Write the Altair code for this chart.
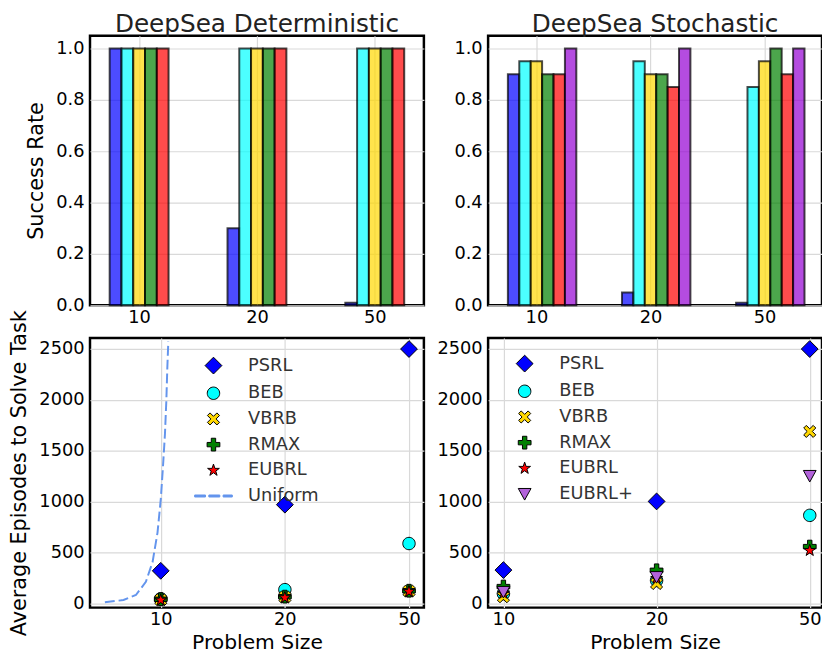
import altair as alt
import pandas as pd

# ---------------- data ----------------
sizes = ["10", "20", "50"]
size_pos = [0, 1, 2]

det_methods = ["PSRL", "BEB", "VBRB", "RMAX", "EUBRL"]
sto_methods = ["PSRL", "BEB", "VBRB", "RMAX", "EUBRL", "EUBRL+"]

# success rate, DeepSea deterministic
det_rate_psrl = [1.0, 0.30, 0.01]
det_rate_beb = [1.0, 1.0, 1.0]
det_rate_vbrb = [1.0, 1.0, 1.0]
det_rate_rmax = [1.0, 1.0, 1.0]
det_rate_eubrl = [1.0, 1.0, 1.0]

# success rate, DeepSea stochastic
sto_rate_psrl = [0.90, 0.05, 0.01]
sto_rate_beb = [0.95, 0.95, 0.85]
sto_rate_vbrb = [0.95, 0.90, 0.95]
sto_rate_rmax = [0.90, 0.90, 1.0]
sto_rate_eubrl = [0.90, 0.85, 0.90]
sto_rate_eubrlp = [1.0, 1.0, 1.0]

# average episodes to solve, deterministic
det_eps_psrl = [320, 970, 2500]
det_eps_beb = [45, 135, 588]
det_eps_vbrb = [35, 62, 120]
det_eps_rmax = [40, 66, 124]
det_eps_eubrl = [32, 56, 116]

# average episodes to solve, stochastic
sto_eps_psrl = [327, 1002, 2500]
sto_eps_beb = [95, 225, 865]
sto_eps_vbrb = [65, 195, 1690]
sto_eps_rmax = [165, 325, 558]
sto_eps_eubrl = [100, 245, 520]
sto_eps_eubrlp = [112, 258, 1252]

# uniform-exploration reference curve (deterministic panel)
uniform_pos = [-0.45, -0.30, -0.20, -0.12, -0.066, -0.026, 0.0, 0.018, 0.034, 0.045, 0.053, 0.061]
uniform_eps = [10, 33, 82, 211, 405, 696, 1019, 1344, 1667, 1990, 2315, 2573]

# ---------------- styles ----------------
FONT = "DejaVu Sans"
bar_colors = ["#0000ff", "#00ffff", "#ffd700", "#008000", "#ff0000", "#9400d3"]
marker_fill = {"PSRL": "#0000ff", "BEB": "#00ffff", "VBRB": "#ffd700", "RMAX": "#008000",
               "EUBRL": "#ff0000", "EUBRL+": "#b262da", "Uniform": "#6495ed"}
marker_shape = {
    "PSRL": "M-1,0L0,-1L1,0L0,1Z",
    "BEB": "M0.74,0A0.74,0.74,0,1,1,-0.74,0A0.74,0.74,0,1,1,0.74,0Z",
    "VBRB": "M0.41,-0.72L0.72,-0.41L0.31,0L0.72,0.41L0.41,0.72L0,0.31L-0.41,0.72L-0.72,0.41L-0.31,0L-0.72,-0.41L-0.41,-0.72L0,-0.31Z",
    "RMAX": "M-0.26,-0.76H0.26V-0.26H0.76V0.26H0.26V0.76H-0.26V0.26H-0.76V-0.26H-0.26Z",
    "EUBRL": "M0,-0.74L0.17,-0.23L0.7,-0.23L0.27,0.09L0.43,0.6L0,0.29L-0.43,0.6L-0.27,0.09L-0.7,-0.23L-0.17,-0.23Z",
    "EUBRL+": "M-0.76,-0.66L0.76,-0.66L0,0.72Z",
    "Uniform": "M-2.24,-0.12H-0.95V0.12H-2.24Z M-0.55,-0.12H0.75V0.12H-0.55Z M1.15,-0.12H2.24V0.12H1.15Z",
}
marker_stroke = {k: "black" for k in marker_fill}
marker_stroke["Uniform"] = "#6495ed"

BAR_W = 0.1
LEFT_W = 338
RIGHT_W = 338
PANEL_H = 273
label_expr = "[" + ",".join("'%s'" % s for s in sizes) + "][datum.value]"


def x_axis(title=None):
    return alt.Axis(values=size_pos, labelExpr=label_expr, title=title, grid=True,
                    labelPadding=3, titlePadding=4, titleFontSize=20.5)


def bar_panel(methods, series, title, x_domain, ytitle, width):
    rows = []
    for j, (m, vals) in enumerate(zip(methods, series)):
        for i, v in enumerate(vals):
            c = size_pos[i] + (j - 2) * BAR_W
            rows.append({"method": m, "x0": c - BAR_W / 2, "x1": c + BAR_W / 2, "rate": v})
    df = pd.DataFrame(rows)
    return alt.Chart(df).mark_bar(
        fillOpacity=0.7, stroke="black", strokeOpacity=0.7, strokeWidth=2, orient="vertical"
    ).encode(
        x=alt.X("x0:Q", scale=alt.Scale(domain=x_domain, nice=False, zero=False), axis=x_axis()),
        x2="x1:Q",
        y=alt.Y("rate:Q", scale=alt.Scale(domain=[0, 1.05], nice=False),
                axis=alt.Axis(values=[0, 0.2, 0.4, 0.6, 0.8, 1.0], format=".1f", title=ytitle,
                              labelPadding=6, titlePadding=9)),
        y2=alt.datum(0),
        fill=alt.Fill("method:N", scale=alt.Scale(domain=methods, range=bar_colors[:len(methods)]), legend=None),
    ).properties(width=width, height=PANEL_H,
                 title=alt.TitleParams(title, fontSize=25, fontWeight="normal", font=FONT,
                                       color="#222222", baseline="alphabetic", offset=-21))


def scatter_panel(methods, series, x_domain, ytitle, legend_entries, legend_x, legend_y, width, uniform=False):
    rows = []
    for m, vals in zip(methods, series):
        for i, v in enumerate(vals):
            rows.append({"method": m, "pos": size_pos[i], "eps": v})
    df = pd.DataFrame(rows)
    xs = alt.Scale(domain=x_domain, nice=False, zero=False)
    ys = alt.Scale(domain=[-42, 2609], nice=False, zero=False)
    yax = alt.Axis(values=[0, 500, 1000, 1500, 2000, 2500], format="d", title=ytitle,
                   labelPadding=6, titlePadding=9)
    leg = alt.Legend(orient="none", legendX=legend_x, legendY=legend_y, title=None,
                     labelFontSize=18, labelColor="#333333", labelFont=FONT,
                     symbolSize=289, symbolStrokeWidth=1, rowPadding=8, labelOffset=26,
                     padding=0, symbolOpacity=1)
    pts = alt.Chart(df).mark_point(filled=True, size=289, strokeWidth=1, opacity=1).encode(
        x=alt.X("pos:Q", scale=xs, axis=x_axis("Problem Size")),
        y=alt.Y("eps:Q", scale=ys, axis=yax),
        shape=alt.Shape("method:N", scale=alt.Scale(domain=legend_entries,
                                                     range=[marker_shape[k] for k in legend_entries]), legend=leg),
        fill=alt.Fill("method:N", scale=alt.Scale(domain=legend_entries,
                                                   range=[marker_fill[k] for k in legend_entries]), legend=leg),
        stroke=alt.Stroke("method:N", scale=alt.Scale(domain=legend_entries,
                                                       range=[marker_stroke[k] for k in legend_entries]), legend=leg),
    )
    layers = []
    if uniform:
        udf = pd.DataFrame({"pos": uniform_pos, "eps": uniform_eps})
        line = alt.Chart(udf).mark_line(color="#6495ed", strokeDash=[10, 4], strokeWidth=2, clip=True).encode(
            x=alt.X("pos:Q", scale=xs, axis=x_axis("Problem Size")),
            y=alt.Y("eps:Q", scale=ys, axis=yax),
        )
        layers.append(line)
    layers.append(pts)
    return alt.layer(*layers).properties(width=width, height=PANEL_H)


tl = bar_panel(det_methods, [det_rate_psrl, det_rate_beb, det_rate_vbrb, det_rate_rmax, det_rate_eubrl],
               "DeepSea Deterministic", [-0.375, 2.375], "Success Rate", LEFT_W)
tr = bar_panel(sto_methods, [sto_rate_psrl, sto_rate_beb, sto_rate_vbrb, sto_rate_rmax, sto_rate_eubrl, sto_rate_eubrlp],
               "DeepSea Stochastic", [-0.38, 2.46], None, RIGHT_W)
bl = scatter_panel(det_methods, [det_eps_psrl, det_eps_beb, det_eps_vbrb, det_eps_rmax, det_eps_eubrl],
                   [-0.57, 2.12], "Average Episodes to Solve Task",
                   det_methods + ["Uniform"], 116, 19, LEFT_W, uniform=True)
br = scatter_panel(sto_methods, [sto_eps_psrl, sto_eps_beb, sto_eps_vbrb, sto_eps_rmax, sto_eps_eubrl, sto_eps_eubrlp],
                   [-0.1, 2.08], None, sto_methods, 28, 17, RIGHT_W)

res = dict(fill="independent", shape="independent", stroke="independent")
chart = alt.concat(
    tl, tr, bl, br, columns=2, bounds="flush",
    spacing=alt.RowColnumber(row=33, column=65),
).resolve_scale(**res).resolve_legend(**res).properties(
    padding={"left": -1, "top": -2, "right": -2, "bottom": 0}
).configure(font=FONT).configure_view(
    stroke="black", strokeWidth=2.5
).configure_axis(
    domain=False, ticks=False, grid=True, gridColor="#d9d9d9", gridWidth=1.2,
    labelFont=FONT, labelFontSize=18, labelColor="black",
    titleFont=FONT, titleFontSize=21, titleFontWeight="normal", titleColor="black",
)

chart.save("out.html", embed_options={"renderer": "svg", "actions": False})
